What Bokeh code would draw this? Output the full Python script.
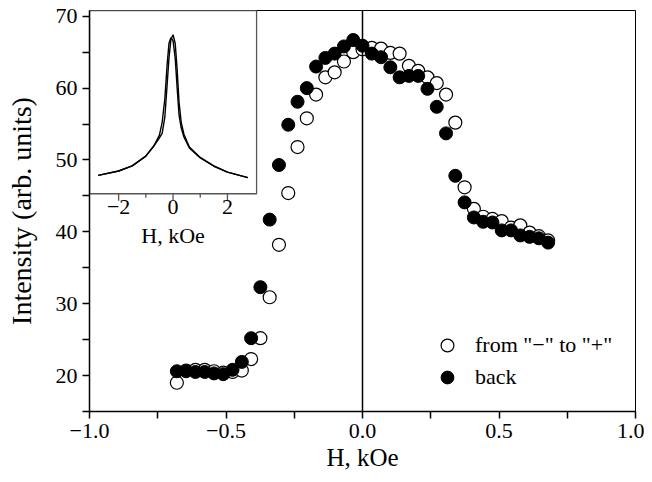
from bokeh.plotting import figure
from bokeh.models import Range1d, FixedTicker, Span, Legend, LegendItem
from bokeh.embed import file_html
from bokeh.resources import INLINE

# ---------------- data ----------------
H = [-0.680, -0.646, -0.612, -0.578, -0.544, -0.510, -0.476, -0.442, -0.408, -0.374,
     -0.340, -0.306, -0.272, -0.238, -0.204, -0.170, -0.136, -0.102, -0.068, -0.034,
     0.000, 0.034, 0.068, 0.102, 0.136, 0.170, 0.204, 0.238, 0.272, 0.306,
     0.340, 0.374, 0.408, 0.442, 0.476, 0.510, 0.544, 0.578, 0.612, 0.646, 0.680]

I_forward = [19.0, 20.7, 20.8, 20.8, 20.6, 20.4, 20.5, 20.7, 22.3, 25.2,
             30.9, 38.2, 45.4, 51.8, 55.8, 59.1, 61.5, 62.2, 63.7, 65.0,
             65.4, 65.6, 65.5, 64.9, 64.8, 63.1, 62.4, 61.5, 60.7, 59.1,
             55.2, 46.2, 43.2, 42.1, 41.8, 41.5, 40.6, 40.9, 39.9, 39.4, 38.8]

I_back = [20.6, 20.6, 20.5, 20.5, 20.3, 20.2, 20.8, 21.9, 25.2, 32.3,
          41.7, 49.3, 54.9, 58.1, 60.0, 63.0, 64.2, 64.8, 65.8, 66.7,
          65.9, 64.8, 64.3, 62.9, 61.5, 61.7, 61.7, 59.9, 57.4, 53.7,
          47.8, 44.1, 42.0, 41.4, 41.3, 40.2, 40.2, 39.5, 39.3, 39.1, 38.5]

# inset (wide field scan), intensity in relative units
inset_H = [-2.75, -2.0, -1.5, -1.0, -0.7, -0.5, -0.4, -0.3, -0.22, -0.15, -0.08,
           0.0, 0.08, 0.15, 0.22, 0.3, 0.4, 0.6, 1.0, 1.5, 2.0, 2.75]
inset_A = [0.100, 0.124, 0.152, 0.205, 0.262, 0.320, 0.390, 0.520, 0.700, 0.820, 0.852,
           0.835, 0.740, 0.580, 0.430, 0.360, 0.310, 0.250, 0.195, 0.150, 0.118, 0.088]
inset_B = [0.100, 0.124, 0.152, 0.205, 0.262, 0.305, 0.330, 0.420, 0.590, 0.740, 0.840,
           0.868, 0.820, 0.680, 0.500, 0.390, 0.325, 0.255, 0.198, 0.152, 0.118, 0.088]
inset_ticks_major = [-2, 0, 2]
inset_ticks_minor = [-1, 1]
inset_tick_labels = ["\u22122", "0", "2"]

x_ticks = [-1.0, -0.5, 0.0, 0.5, 1.0]
x_labels = {-1.0: "\u22121.0", -0.5: "\u22120.5", 0.0: "0.0", 0.5: "0.5", 1.0: "1.0"}
y_ticks = [20, 30, 40, 50, 60, 70]

FONT = "Liberation Serif"

# ---------------- figure ----------------
p = figure(frame_width=546, frame_height=401,
           x_range=Range1d(-1, 1), y_range=Range1d(15, 70.8),
           output_backend="svg", toolbar_location=None,
           min_border_left=89, min_border_top=10, min_border_right=9, min_border_bottom=62)
p.xgrid.visible = False
p.ygrid.visible = False
p.outline_line_color = "black"
p.outline_line_width = 1
p.outline_line_alpha = 1
p.background_fill_color = "white"
p.border_fill_color = "white"

for ax in (p.xaxis[0], p.yaxis[0]):
    ax.axis_line_width = 1.5
    ax.major_tick_line_width = 1.5
    ax.minor_tick_line_width = 1.5
    ax.major_tick_in = 0
    ax.major_tick_out = 7
    ax.minor_tick_in = 0
    ax.minor_tick_out = 7
    ax.major_label_text_font = FONT
    ax.major_label_text_font_size = "22px"
    ax.major_label_text_color = "black"
    ax.axis_label_text_font = FONT
    ax.axis_label_text_font_style = "normal"
    ax.axis_label_text_color = "black"
    ax.major_label_standoff = 5

p.xaxis.ticker = FixedTicker(ticks=x_ticks, minor_ticks=[-0.75, -0.25, 0.25, 0.75])
p.xaxis.major_label_overrides = x_labels
p.xaxis.axis_label = "H, kOe"
p.xaxis.axis_label_text_font_size = "25px"
p.xaxis.axis_label_standoff = 3

p.yaxis.ticker = FixedTicker(ticks=y_ticks, minor_ticks=[15, 25, 35, 45, 55, 65])
p.yaxis.axis_label = "Intensity (arb. units)"
p.yaxis.axis_label_text_font_size = "28px"
p.yaxis.axis_label_standoff = 16
p.yaxis.major_label_orientation = "horizontal"

p.add_layout(Span(location=0, dimension="height", line_color="black", line_width=1.5))

# ---------------- inset ----------------
INSET_X = (-1.0, -0.388)
INSET_Y = (45.3, 70.8)
p.quad(left=INSET_X[0], right=INSET_X[1], bottom=INSET_Y[0], top=INSET_Y[1],
       fill_color="white", line_color="#555555", line_width=1.3)

inset = p.subplot(x_source=Range1d(-3.07, 3.07), y_source=Range1d(0, 1),
                  x_target=Range1d(*INSET_X), y_target=Range1d(*INSET_Y))
inset.line(inset_H, inset_A, line_color="black", line_width=1.4)
inset.line(inset_H, inset_B, line_color="black", line_width=1.4)
inset.segment(x0=inset_ticks_major, y0=[0] * 3, x1=inset_ticks_major, y1=[-0.038] * 3,
              line_color="#555555", line_width=1.3)
inset.segment(x0=inset_ticks_minor, y0=[0] * 2, x1=inset_ticks_minor, y1=[-0.022] * 2,
              line_color="#555555", line_width=1.3)
inset.text(x=inset_ticks_major, y=[0] * 3, text=inset_tick_labels, y_offset=6,
           text_align="center", text_baseline="top", text_font_size="22px",
           text_font=FONT, text_color="black")
inset.text(x=[0], y=[0], text=["H, kOe"], y_offset=29,
           text_align="center", text_baseline="top", text_font_size="22px",
           text_font=FONT, text_color="black")

# ---------------- data points ----------------
r_open = p.scatter(H, I_forward, marker="circle", size=13, fill_color="white",
                   line_color="black", line_width=1.2)
r_fill = p.scatter(H, I_back, marker="circle", size=13, fill_color="black",
                   line_color="black", line_width=1.0)

legend = Legend(items=[LegendItem(label='from "\u2212" to "+"', renderers=[r_open]),
                       LegendItem(label="back", renderers=[r_fill])],
                location=(342, 18), border_line_color=None, background_fill_alpha=0,
                padding=0, margin=0, spacing=0, glyph_width=32, glyph_height=32,
                label_height=32, label_standoff=12,
                label_text_font=FONT, label_text_font_size="22px",
                label_text_color="black")
p.add_layout(legend)

open("out.html", "w").write(file_html(p, INLINE))
